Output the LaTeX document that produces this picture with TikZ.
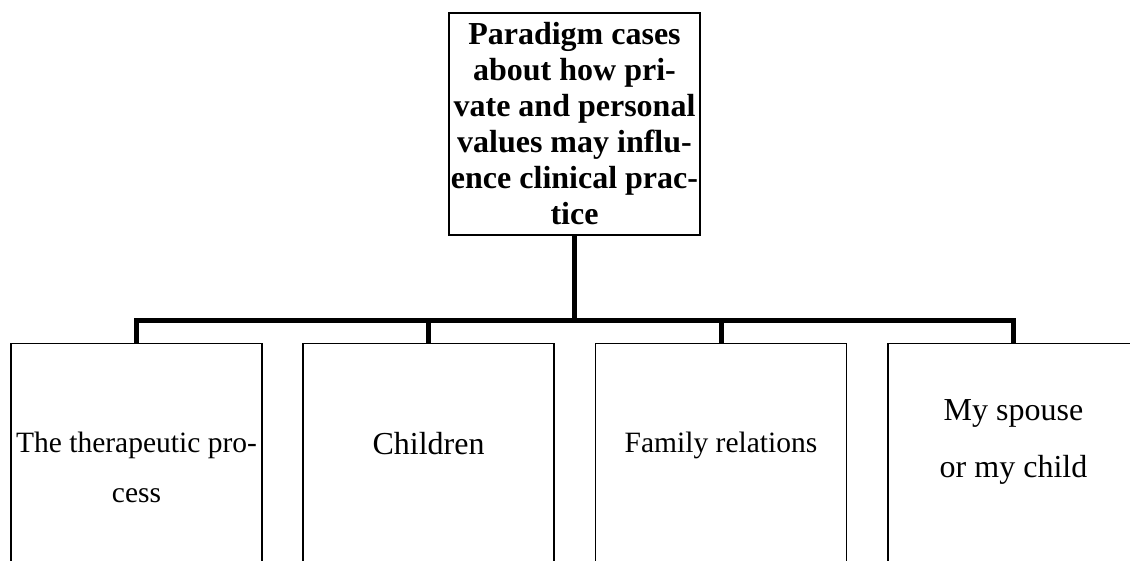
\documentclass[tikz,border=0pt]{standalone}
\usepackage{fontspec}
\setmainfont{Liberation Serif}
\begin{document}
\begin{tikzpicture}[x=1pt,y=-1pt,
  box/.style={draw=black, line width=1.5pt, inner sep=0pt, fill=white},
  conn/.style={draw=black, line width=5pt, line join=miter},
  label/.style={anchor=base, align=center, inner sep=0pt, text=black}]
  \useasboundingbox (0,0) rectangle (1130,561);

  % root box; a multi-line label sits on the baseline of its last line
  \node[box, minimum width=251, minimum height=222] (root) at (574.5,124) {};
  \node[label, font=\fontsize{32}{36}\selectfont\bfseries] (roottext) at (574.5,225)
    {Paradigm cases\\about how pri-\\vate and personal\\values may influ-\\ence clinical prac-\\tice};

  % child boxes (their lower edges run past the page)
  \node[box, anchor=north, minimum width=251, minimum height=260] (c1) at (136.5,343) {};
  \node[box, anchor=north, minimum width=251, minimum height=260] (c2) at (428.5,343) {};
  \node[box, anchor=north, minimum width=251, minimum height=260] (c3) at (721,343) {};
  \node[box, anchor=north, minimum width=251, minimum height=260] (c4) at (1013.5,343) {};

  \node[label, font=\fontsize{29.5}{50}\selectfont] (t1) at (136.5,502) {The therapeutic pro-\\cess};
  \node[label, font=\fontsize{32}{57}\selectfont] (t2) at (428.5,454) {Children};
  \node[label, font=\fontsize{29.5}{50}\selectfont] (t3) at (721,452) {Family relations};
  \node[label, font=\fontsize{32}{57}\selectfont] (t4) at (1013.5,477) {My spouse\\or my child};

  % connectors
  \coordinate (bus) at (575,320.5);
  \draw[conn] (root.south) -- (root.south |- bus);
  \draw[conn] (c1.north) |- (c4.north |- bus) -- (c4.north);
  \draw[conn] (c2.north) -- (c2.north |- bus);
  \draw[conn] (c3.north) -- (c3.north |- bus);
\end{tikzpicture}
\end{document}
